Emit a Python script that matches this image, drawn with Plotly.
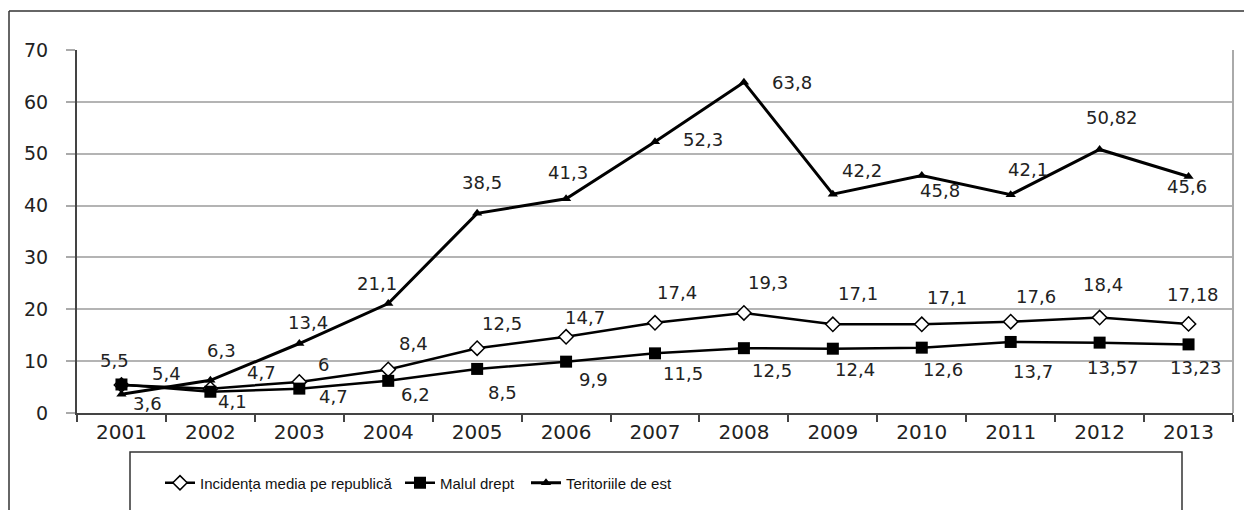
import plotly.graph_objects as go

years = ["2001", "2002", "2003", "2004", "2005", "2006", "2007", "2008", "2009", "2010", "2011", "2012", "2013"]
incidenta = [5.4, 4.7, 6, 8.4, 12.5, 14.7, 17.4, 19.3, 17.1, 17.1, 17.6, 18.4, 17.18]
malul = [5.5, 4.1, 4.7, 6.2, 8.5, 9.9, 11.5, 12.5, 12.4, 12.6, 13.7, 13.57, 13.23]
teritorii = [3.6, 6.3, 13.4, 21.1, 38.5, 41.3, 52.3, 63.8, 42.2, 45.8, 42.1, 50.82, 45.6]
y_ticks = [0, 10, 20, 30, 40, 50, 60, 70]

names = ["Incidența media pe republică", "Malul drept", "Teritoriile de est"]

# label offsets in pixels (dx right, dy down)
off_inc = [(45, -12), (51, -16), (24, -17), (25, -26), (25, -25), (19, -19), (22, -30),
           (24, -30), (25, -31), (25, -27), (25, -25), (3, -33), (4, -29)]
off_mal = [(-7, -24), (22, 10), (34, 8), (27, 14), (25, 24), (27, 18), (28, 20),
           (28, 22), (22, 21), (21, 22), (22, 30), (13, 25), (7, 23)]
off_ter = [(26, 9), (11, -30), (9, -21), (-11, -20), (5, -31), (2, -26), (48, -2),
           (48, 0), (29, -24), (18, 15), (17, -25), (12, -32), (-2, 10)]

LBL_FONT = dict(family="DejaVu Sans, Arial, sans-serif", size=18, color="#222")
LEG_FONT = dict(family="Liberation Sans Narrow, Arial Narrow, Liberation Sans, sans-serif", size=15, color="#111")

fig = go.Figure()
fig.add_trace(go.Scatter(
    x=years, y=incidenta, name=names[0], mode="lines+markers",
    line=dict(color="black", width=2.5),
    marker=dict(symbol="diamond", size=11, color="white", line=dict(color="black", width=1.5)),
    legend="legend",
))
fig.add_trace(go.Scatter(
    x=years, y=malul, name=names[1], mode="lines+markers",
    line=dict(color="black", width=2.5),
    marker=dict(symbol="square", size=12, color="black"),
    legend="legend2",
))
fig.add_trace(go.Scatter(
    x=years, y=teritorii, name=names[2], mode="lines+markers",
    line=dict(color="black", width=3),
    marker=dict(symbol="triangle-up", size=9, color="black"),
    legend="legend3",
))


def fmt(v):
    return f"{v:g}".replace(".", ",")


annotations = []
for vals, offs in ((incidenta, off_inc), (malul, off_mal), (teritorii, off_ter)):
    for i, (v, (dx, dy)) in enumerate(zip(vals, offs)):
        annotations.append(dict(
            x=i, y=v, xref="x", yref="y", text=fmt(v), showarrow=False,
            xanchor="center", yanchor="middle", xshift=dx, yshift=-dy, font=LBL_FONT,
        ))

W, H = 1244, 510
L, R, T, B = 77, 11, 50, 97
pw, ph = W - L - R, H - T - B


def px(xp):
    return (xp - L) / pw


def py(yp):
    return (H - B - yp) / ph


shapes = [
    dict(type="line", xref="paper", yref="paper", x0=px(9), x1=px(1244), y0=py(11), y1=py(11),
         line=dict(color="#333", width=1.5)),
    dict(type="line", xref="paper", yref="paper", x0=px(9), x1=px(9), y0=py(11), y1=py(512),
         line=dict(color="#333", width=1.5)),
    dict(type="line", xref="paper", yref="paper", x0=1, x1=1, y0=0, y1=1,
         line=dict(color="#aaa", width=2)),
    dict(type="rect", xref="paper", yref="paper", x0=px(130), x1=px(1182), y0=py(520), y1=py(452),
         line=dict(color="#333", width=1.5), fillcolor="rgba(0,0,0,0)"),
]

leg_common = dict(orientation="h", yanchor="middle", y=py(483), xanchor="left",
                  font=LEG_FONT, bgcolor="rgba(0,0,0,0)", borderwidth=0, itemwidth=30)

fig.update_layout(
    width=W, height=H,
    margin=dict(l=L, r=R, t=T, b=B, pad=0),
    paper_bgcolor="white", plot_bgcolor="white",
    showlegend=True,
    legend=dict(x=px(160), **leg_common),
    legend2=dict(x=px(400), **leg_common),
    legend3=dict(x=px(526), **leg_common),
    annotations=annotations,
    shapes=shapes,
    xaxis=dict(
        type="category", range=[-0.5, 12.5], tickson="boundaries",
        ticks="outside", ticklen=7, tickcolor="#444", tickwidth=1.5,
        showline=True, linecolor="#444", linewidth=2,
        showgrid=False, zeroline=False,
        tickfont=dict(family="DejaVu Sans, Arial, sans-serif", size=20, color="#222"),
    ),
    yaxis=dict(
        range=[0, 70], tickvals=y_ticks,
        ticks="outside", ticklen=9, tickcolor="#aaa", tickwidth=2,
        showline=True, linecolor="#444", linewidth=2,
        showgrid=True, gridcolor="#b4b4b4", gridwidth=2, zeroline=False,
        ticklabelstandoff=14,
        tickfont=dict(family="DejaVu Sans, Arial, sans-serif", size=19, color="#222"),
    ),
)

fig.write_html("out.html")
